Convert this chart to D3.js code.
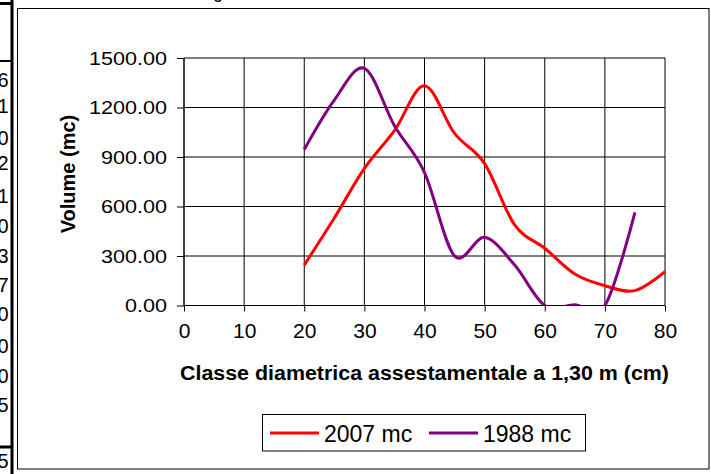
<!DOCTYPE html>
<html>
<head>
<meta charset="utf-8">
<script src="https://cdn.jsdelivr.net/npm/d3@7"></script>
<style>
  body { margin: 0; background: #fff; }
  svg { display: block; font-family: "Liberation Sans", Arial, sans-serif; }
</style>
</head>
<body>
<div id="chart"></div>
<script>
// data
var classes = [20, 25, 30, 35, 40, 45, 50, 55, 60, 65, 70, 75, 80];
var vol2007 = [245, 530, 831, 1060, 1332, 1043, 860, 488, 347, 191, 120, 90, 205];
var classes1988 = [20, 25, 30, 35, 40, 45, 50, 55, 60, 65, 70, 75];
var vol1988 = [946, 1245, 1437, 1090, 806, 300, 413, 245, 0, 5, 0, 565];
var xTicks = [0, 10, 20, 30, 40, 50, 60, 70, 80];
var yTicks = [0, 300, 600, 900, 1200, 1500];
var seriesNames = ['2007 mc', '1988 mc'];
var seriesColors = ['#ff0000', '#800080'];
// cut-off spreadsheet column on the left
var sideDigits = ['6', '1', '0', '2', '1', '0', '3', '7', '0', '0', '0', '5', '5'];
var sideRows = [87, 113, 145, 170, 203, 233, 263, 292, 321, 353, 383, 412, 468];

var width = 711, height = 474;
var plot = {left: 184, right: 665, top: 58, bottom: 305.5};

var svg = d3.select('#chart').append('svg')
  .attr('width', width)
  .attr('height', height);

// spreadsheet fragments
svg.append('rect').attr('x', 10.5).attr('y', 0).attr('width', 3).attr('height', height).attr('fill', '#000');
svg.append('rect').attr('x', 0).attr('y', 2).attr('width', 13).attr('height', 3).attr('fill', '#000');
svg.append('rect').attr('x', 0).attr('y', 60).attr('width', 13).attr('height', 2).attr('fill', '#000');
svg.append('rect').attr('x', 0).attr('y', 445.5).attr('width', 13).attr('height', 3).attr('fill', '#000');
svg.selectAll('.side')
  .data(sideDigits)
  .enter()
  .append('text')
  .attr('class', 'side')
  .attr('x', 8.5)
  .attr('y', function(d, i){ return sideRows[i]; })
  .attr('text-anchor', 'end')
  .attr('font-size', 20)
  .text(function(d){ return d; });
svg.append('text').attr('x', 213).attr('y', -2).attr('font-size', 18).text('g');

// chart frame
svg.append('rect')
  .attr('x', 17.5).attr('y', 8.5)
  .attr('width', 691.5).attr('height', 460.5)
  .attr('fill', '#fff').attr('stroke', '#000').attr('stroke-width', 1);

var x = d3.scaleLinear().domain([0, 80]).range([plot.left, plot.right]);
var y = d3.scaleLinear().domain([0, 1500]).range([plot.bottom, plot.top]);

// grid
svg.selectAll('.hgrid')
  .data(yTicks)
  .enter()
  .append('line')
  .attr('x1', plot.left).attr('x2', plot.right)
  .attr('y1', function(d){ return y(d); })
  .attr('y2', function(d){ return y(d); })
  .attr('stroke', '#000').attr('stroke-width', 1);
svg.selectAll('.vgrid')
  .data(xTicks)
  .enter()
  .append('line')
  .attr('x1', function(d){ return x(d); })
  .attr('x2', function(d){ return x(d); })
  .attr('y1', plot.top).attr('y2', plot.bottom)
  .attr('stroke', '#000').attr('stroke-width', 1);

// axes
var xAxis = svg.append('g')
  .attr('transform', 'translate(0,' + plot.bottom + ')')
  .call(d3.axisBottom(x).tickValues(xTicks).tickSize(6).tickPadding(12).tickFormat(d3.format('d')));
var yAxis = svg.append('g')
  .attr('transform', 'translate(' + plot.left + ',0)')
  .call(d3.axisLeft(y).tickValues(yTicks).tickSize(7).tickFormat(d3.format('.2f')));
xAxis.select('.domain').attr('stroke', '#000').attr('d', 'M' + plot.left + ',0H' + plot.right);
yAxis.select('.domain').attr('stroke', '#000').attr('d', 'M0,' + plot.top + 'V' + plot.bottom);
xAxis.selectAll('.tick line').attr('stroke', '#000');
yAxis.selectAll('.tick line').attr('stroke', '#000');
xAxis.selectAll('.tick text')
  .attr('font-family', '"Liberation Sans", Arial, sans-serif')
  .attr('font-size', 21).attr('fill', '#000').attr('dy', '0.71em');
yAxis.selectAll('.tick text')
  .attr('font-family', '"Liberation Sans", Arial, sans-serif')
  .attr('font-size', 18).attr('fill', '#000')
  .attr('x', null).attr('dy', '0.35em')
  .attr('transform', 'translate(-17,0) scale(1.2,1)');

// axis titles
svg.append('text')
  .attr('x', 180).attr('y', 380)
  .attr('font-size', 20).attr('font-weight', 'bold')
  .attr('textLength', 489).attr('lengthAdjust', 'spacingAndGlyphs')
  .text('Classe diametrica assestamentale a 1,30 m (cm)');
svg.append('text')
  .attr('transform', 'translate(75,174) rotate(-90)')
  .attr('text-anchor', 'middle')
  .attr('font-size', 20).attr('font-weight', 'bold')
  .text('Volume (mc)');

// series
svg.append('clipPath').attr('id', 'plotclip')
  .append('rect')
  .attr('x', plot.left - 2).attr('y', plot.top - 2)
  .attr('width', plot.right - plot.left + 4).attr('height', plot.bottom - plot.top + 2);

var line = d3.line()
  .x(function(d){ return x(d[0]); })
  .y(function(d){ return y(d[1]); })
  .curve(d3.curveCardinal.tension(0));

var series = [
  d3.zip(classes, vol2007),
  d3.zip(classes1988, vol1988)
];

svg.append('g').attr('clip-path', 'url(#plotclip)')
  .selectAll('.series')
  .data(series)
  .enter()
  .append('path')
  .attr('class', 'series')
  .attr('d', line)
  .attr('fill', 'none')
  .attr('stroke', function(d, i){ return seriesColors[i]; })
  .attr('stroke-width', 3)
  .attr('stroke-linejoin', 'round');

// legend
var legend = svg.append('g');
legend.append('rect')
  .attr('x', 262.5).attr('y', 414.5)
  .attr('width', 323).attr('height', 36.5)
  .attr('fill', '#fff').attr('stroke', '#000').attr('stroke-width', 1);
var legX = [270, 429];
var item = legend.selectAll('.item')
  .data(seriesNames)
  .enter()
  .append('g')
  .attr('class', 'item')
  .attr('transform', function(d, i){ return 'translate(' + legX[i] + ',433)'; });
item.append('line')
  .attr('x1', 0).attr('x2', 49)
  .attr('stroke', function(d, i){ return seriesColors[i]; })
  .attr('stroke-width', 3);
item.append('text')
  .attr('x', 54).attr('y', 8.5)
  .attr('font-size', 23)
  .text(function(d){ return d; });
</script>
</body>
</html>
